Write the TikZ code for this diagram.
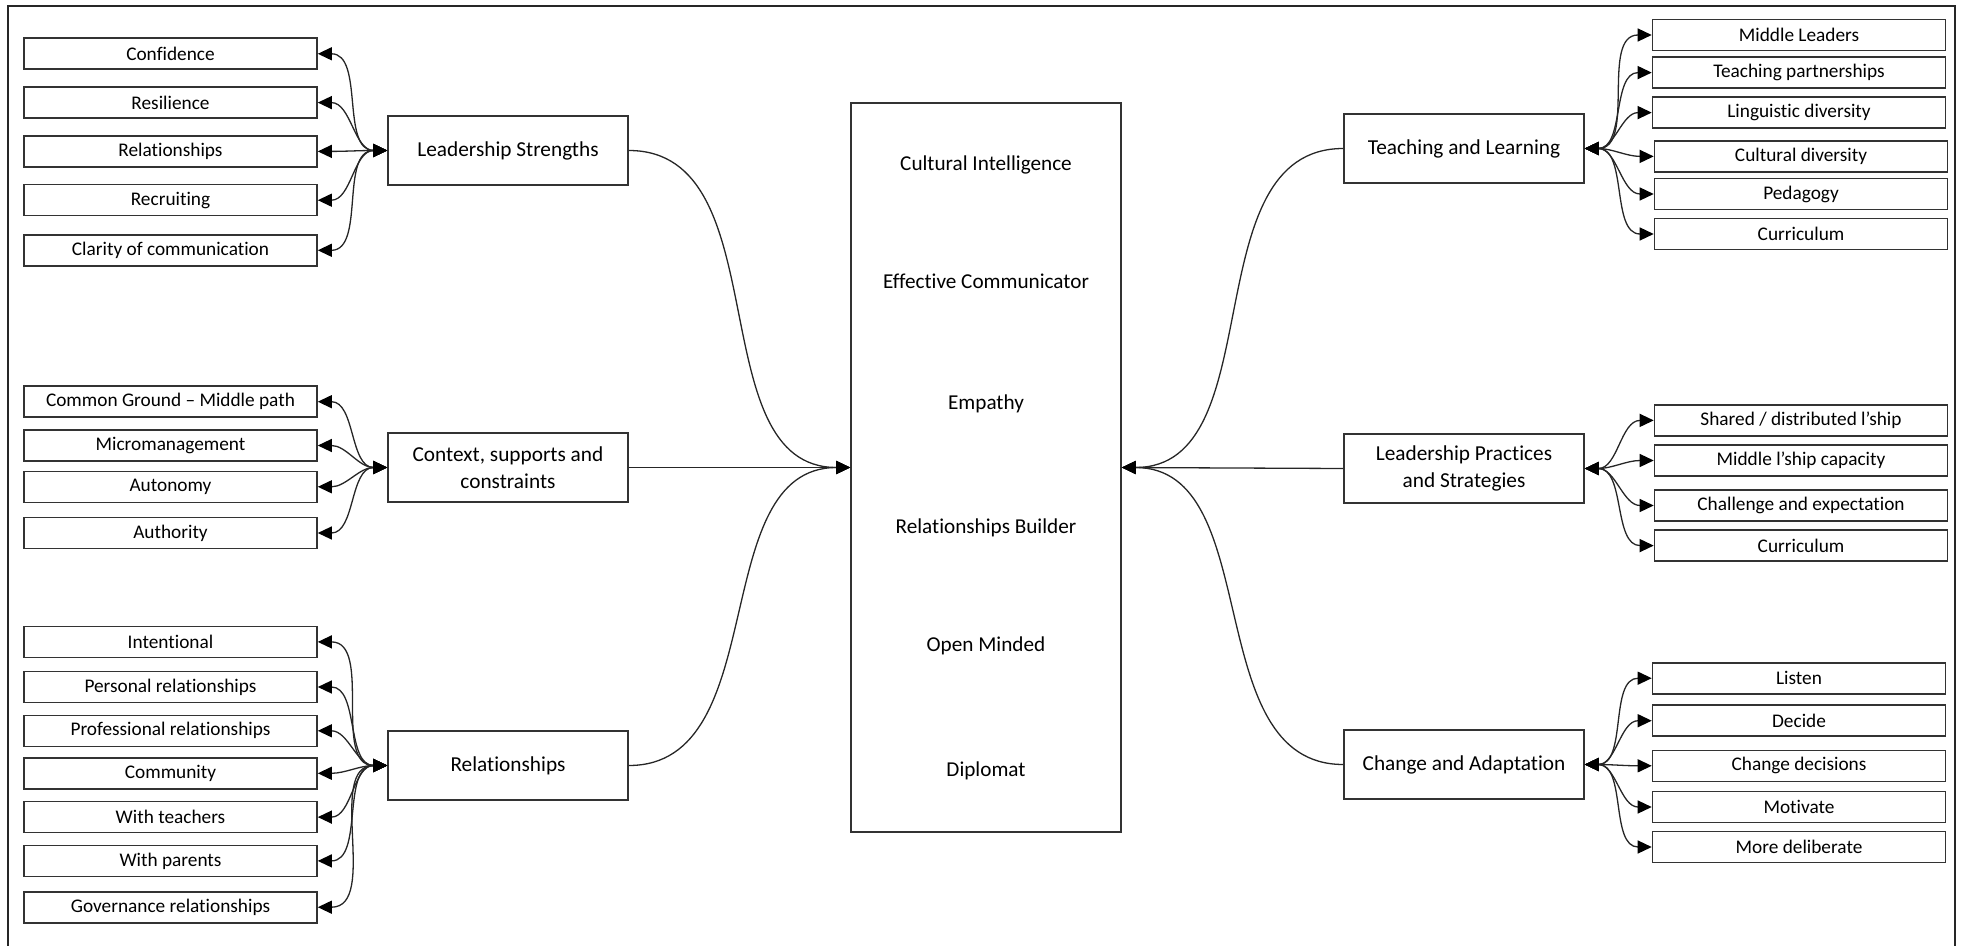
\documentclass[tikz,border=0pt]{standalone}
\usepackage{fontspec}
\setmainfont{Carlito}[Ligatures=NoCommon]
\usetikzlibrary{arrows.meta}
\tikzset{
  sbox/.style={draw=black!80, line width=0.8pt, minimum width=146.5pt, minimum height=15.5pt, inner sep=0pt, font=\fontsize{9.65}{11}\selectfont},
  gbox/.style={draw=black!80, line width=0.8pt, minimum width=120pt, minimum height=34.5pt, inner sep=0pt, align=center, font=\fontsize{10.65}{13.8}\selectfont},
  cbox/.style={draw=black!80, line width=0.8pt, minimum width=135pt, minimum height=364.5pt, inner sep=0pt},
  ctext/.style={inner sep=0pt, font=\fontsize{10.6}{12}\selectfont},
  tip/.tip={Triangle[length=7pt,width=6.5pt,color=black]},
  link/.style={line width=0.65pt, draw=black!85, tip-tip},
  mainlink/.style={line width=0.65pt, draw=black!85, -tip},
}
\begin{document}
\begin{tikzpicture}[x=0.5pt,y=-0.5pt]
\useasboundingbox (0,0) rectangle (1962,946);
\draw[line width=1.3pt, black!85] (8,946) -- (8,6) -- (1955,6) -- (1955,946);

% centre
\node[cbox] (core) at (986,467.5) {};
\node[ctext] (t1) at (986,165) {Cultural Intelligence};
\node[ctext] (t2) at (986,281.5) {Effective Communicator};
\node[ctext] (t3) at (986,404) {Empathy};
\node[ctext] (t4) at (986,528) {Relationships Builder};
\node[ctext] (t5) at (986,645.7) {Open Minded};
\node[ctext] (t6) at (986,770.8) {Diplomat};

% left groups
\node[gbox] (ls) at (508,150.5) {Leadership Strengths};
\node[gbox] (cx) at (508,467.5) {Context, supports and\\constraints};
\node[gbox] (rl) at (508,765.5) {Relationships};

% right groups
\node[gbox] (tl) at (1464,148.5) {Teaching and Learning};
\node[gbox] (lp) at (1464,468.5) {Leadership Practices\\and Strategies};
\node[gbox] (ca) at (1464,764.5) {Change and Adaptation};

% left small boxes
\node[sbox] (ls1) at (170.5,53.8) {Confidence};
\node[sbox] (ls2) at (170.5,102.6) {Resilience};
\node[sbox] (ls3) at (170.5,151.4) {Relationships};
\node[sbox] (ls4) at (170.5,200.2) {Recruiting};
\node[sbox] (ls5) at (170.5,250.3) {Clarity of communication};

\node[sbox] (cx1) at (170.5,401.7) {Common Ground – Middle path};
\node[sbox] (cx2) at (170.5,445.5) {Micromanagement};
\node[sbox] (cx3) at (170.5,486.8) {Autonomy};
\node[sbox] (cx4) at (170.5,533) {Authority};

\node[sbox] (rl1) at (170.5,641.9) {Intentional};
\node[sbox] (rl2) at (170.5,687) {Personal relationships};
\node[sbox] (rl3) at (170.5,730.8) {Professional relationships};
\node[sbox] (rl4) at (170.5,773.3) {Community};
\node[sbox] (rl5) at (170.5,817.1) {With teachers};
\node[sbox] (rl6) at (170.5,860.9) {With parents};
\node[sbox] (rl7) at (170.5,907.2) {Governance relationships};

% right small boxes
\node[sbox] (tl1) at (1799,35) {Middle Leaders};
\node[sbox] (tl2) at (1799,72.6) {Teaching partnerships};
\node[sbox] (tl3) at (1799,112.6) {Linguistic diversity};
\node[sbox] (tl4) at (1801,156.4) {Cultural diversity};
\node[sbox] (tl5) at (1801,194) {Pedagogy};
\node[sbox] (tl6) at (1801,234) {Curriculum};

\node[sbox] (lp1) at (1801,420.4) {Shared / distributed l’ship};
\node[sbox] (lp2) at (1801,460.5) {Middle l’ship capacity};
\node[sbox] (lp3) at (1801,505.5) {Challenge and expectation};
\node[sbox] (lp4) at (1801,545.6) {Curriculum};

\node[sbox] (ca1) at (1799,678.2) {Listen};
\node[sbox] (ca2) at (1799,720.7) {Decide};
\node[sbox] (ca3) at (1799,765.8) {Change decisions};
\node[sbox] (ca4) at (1799,807) {Motivate};
\node[sbox] (ca5) at (1799,847) {More deliberate};

% group to small links
\foreach \i in {1,...,5} \draw[link] (ls.west) to[out=180,in=0] (ls\i.east);
\foreach \i in {1,...,4} \draw[link] (cx.west) to[out=180,in=0] (cx\i.east);
\foreach \i in {1,...,7} \draw[link] (rl.west) to[out=180,in=0] (rl\i.east);
\foreach \i in {1,...,6} \draw[link] (tl.east) to[out=0,in=180] (tl\i.west);
\foreach \i in {1,...,4} \draw[link] (lp.east) to[out=0,in=180] (lp\i.west);
\foreach \i in {1,...,5} \draw[link] (ca.east) to[out=0,in=180] (ca\i.west);

% group to core links
\draw[mainlink] (ls.east) to[out=0,in=180] (core.west);
\draw[mainlink] (cx.east) -- (core.west);
\draw[mainlink] (rl.east) to[out=0,in=180] (core.west);
\draw[mainlink] (tl.west) to[out=180,in=0] (core.east);
\draw[mainlink] (lp.west) -- (core.east);
\draw[mainlink] (ca.west) to[out=180,in=0] (core.east);
\end{tikzpicture}
\end{document}
